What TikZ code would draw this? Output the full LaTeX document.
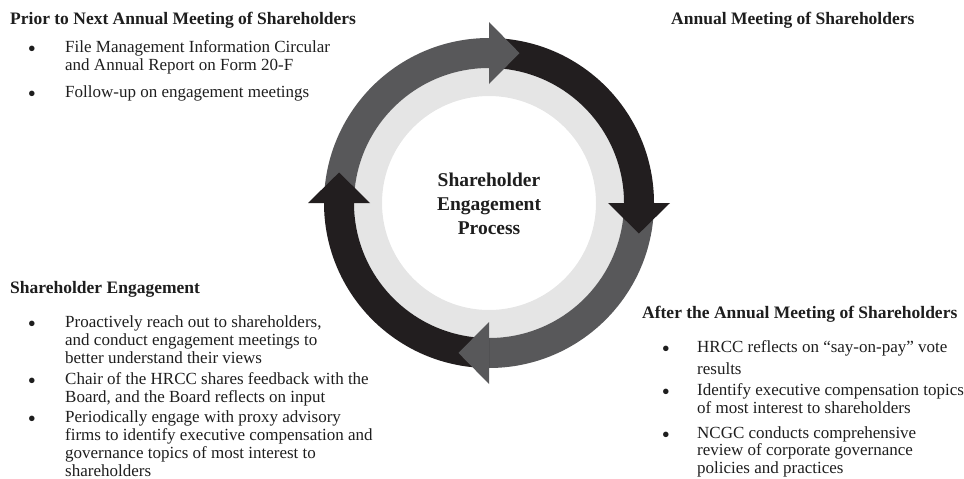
\documentclass[tikz,border=0pt]{standalone}
\usepackage{fontspec}
\setmainfont{Liberation Serif}
\usetikzlibrary{calc}
\definecolor{ringgray}{HTML}{58585A}
\definecolor{ringdark}{HTML}{221E1F}
\definecolor{ringlight}{HTML}{E5E5E5}
\definecolor{txt}{HTML}{1E1E1E}
\tikzset{
  head/.style={font=\fontsize{17.5}{20}\selectfont\bfseries, anchor=base west, inner sep=0pt, text=txt},
  body/.style={font=\fontsize{17}{18}\selectfont, anchor=base west, inner sep=0pt, text=txt},
  bul/.style={font=\fontsize{23}{23}\selectfont, anchor=base, inner sep=0pt, text=txt, yshift=-4pt},
  centre/.style={font=\fontsize{19.5}{24}\selectfont\bfseries, align=center, inner sep=0pt, text=txt}
}
\newcommand{\ringseg}[3]{% colour, from angle, to angle
  \fill[#1] ($(C)+(#2:165pt)$) arc[start angle=#2, end angle=#3, radius=165pt]
    -- ($(C)+(#3:135pt)$) arc[start angle=#3, end angle=#2, radius=135pt] -- cycle;}
\newcommand{\ringhead}[2]{% colour, base angle
  \fill[#1] ($(C)+(#2:119pt)$) -- ($(C)+(#2:181pt)$) -- ($(C)+(#2-11.5:153pt)$) -- cycle;}
\begin{document}
\begin{tikzpicture}[x=1pt,y=-1pt]
\useasboundingbox (0,0) rectangle (964,479);
\coordinate (C) at (489,203);
% ring
\fill[ringlight, even odd rule] (C) circle[radius=135pt] (C) circle[radius=107pt];
\ringseg{ringgray}{180}{90}
\ringseg{ringdark}{90}{0}
\ringseg{ringgray}{0}{-90}
\ringseg{ringdark}{-90}{-180}
\ringhead{ringgray}{90}
\ringhead{ringdark}{0}
\ringhead{ringgray}{-90}
\ringhead{ringdark}{180}
\node[centre] (ctr) at (489,204) {Shareholder\\Engagement\\Process};
% top left
\node[head] (h1) at (10,24) {Prior to Next Annual Meeting of Shareholders};
\node[bul] (b11) at (32,52) {\textbullet};
\node[body] (t11a) at (65,52) {File Management Information Circular};
\node[body] (t11b) at (65,70) {and Annual Report on Form 20-F};
\node[bul] (b12) at (32,97) {\textbullet};
\node[body] (t12a) at (65,97) {Follow-up on engagement meetings};
% top right
\node[head] (h2) at (671,24) {Annual Meeting of Shareholders};
% bottom left
\node[head] (h3) at (10,293) {Shareholder Engagement};
\node[bul] (b31) at (32,327) {\textbullet};
\node[body] (t31a) at (65,327) {Proactively reach out to shareholders,};
\node[body] (t31b) at (65,345) {and conduct engagement meetings to};
\node[body] (t31c) at (65,363) {better understand their views};
\node[bul] (b32) at (32,384) {\textbullet};
\node[body] (t32a) at (65,384) {Chair of the HRCC shares feedback with the};
\node[body] (t32b) at (65,402) {Board, and the Board reflects on input};
\node[bul] (b33) at (32,422) {\textbullet};
\node[body] (t33a) at (65,422) {Periodically engage with proxy advisory};
\node[body] (t33b) at (65,440) {firms to identify executive compensation and};
\node[body] (t33c) at (65,458) {governance topics of most interest to};
\node[body] (t33d) at (65,476) {shareholders};
% bottom right
\node[head] (h4) at (642,318) {After the Annual Meeting of Shareholders};
\node[bul] (b41) at (666,352) {\textbullet};
\node[body] (t41a) at (697,352) {HRCC reflects on “say-on-pay” vote};
\node[body] (t41b) at (697,374) {results};
\node[bul] (b42) at (666,395) {\textbullet};
\node[body] (t42a) at (697,395) {Identify executive compensation topics};
\node[body] (t42b) at (697,413) {of most interest to shareholders};
\node[bul] (b43) at (666,438) {\textbullet};
\node[body] (t43a) at (697,438) {NCGC conducts comprehensive};
\node[body] (t43b) at (697,455) {review of corporate governance};
\node[body] (t43c) at (697,473) {policies and practices};
\end{tikzpicture}
\end{document}
